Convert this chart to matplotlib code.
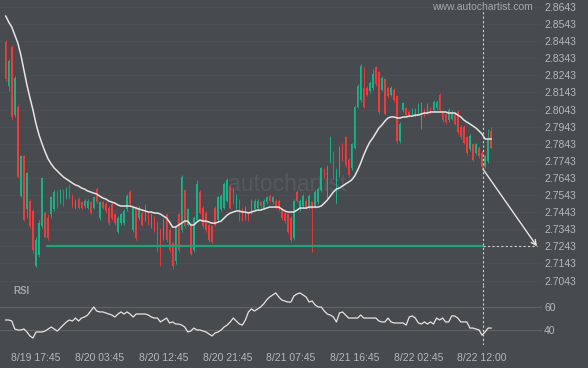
import matplotlib
matplotlib.use("Agg")
import matplotlib.pyplot as plt

plt.rcParams["font.family"] = ["Liberation Sans", "DejaVu Sans"]

# ----------------------------------------------------------------------
# Data (15-min candles)
# ----------------------------------------------------------------------
opens = [
    2.844, 2.818, 2.841, 2.801, 2.806, 2.754, 2.777, 2.746, 2.751, 2.745,
    2.713, 2.719, 2.736, 2.744, 2.741, 2.743, 2.746, 2.756, 2.750, 2.757,
    2.753, 2.760, 2.754, 2.747, 2.752, 2.750, 2.748, 2.747, 2.750, 2.747,
    2.758, 2.741, 2.750, 2.749, 2.747, 2.749, 2.743, 2.733, 2.738, 2.738,
    2.746, 2.756, 2.734, 2.747, 2.741, 2.744, 2.740, 2.744, 2.736, 2.741,
    2.738, 2.734, 2.730, 2.743, 2.734, 2.726, 2.716, 2.743, 2.734, 2.757,
    2.737, 2.737, 2.722, 2.740, 2.756, 2.747, 2.744, 2.737, 2.736, 2.747,
    2.740, 2.746, 2.747, 2.751, 2.759, 2.758, 2.747, 2.751, 2.746, 2.741,
    2.744, 2.744, 2.746, 2.747, 2.750, 2.747, 2.750, 2.754, 2.750, 2.751,
    2.751, 2.746, 2.744, 2.743, 2.741, 2.729, 2.756, 2.746, 2.748, 2.751,
    2.747, 2.750, 2.748, 2.750, 2.757, 2.769, 2.753, 2.774, 2.779, 2.750,
    2.766, 2.784, 2.788, 2.775, 2.770, 2.782, 2.806, 2.810, 2.817, 2.817,
    2.815, 2.817, 2.829, 2.826, 2.816, 2.822, 2.817, 2.813, 2.816, 2.812,
    2.786, 2.804, 2.805, 2.803, 2.802, 2.801, 2.803, 2.794, 2.804, 2.803,
    2.805, 2.804, 2.805, 2.813, 2.803, 2.802, 2.798, 2.799, 2.802, 2.803,
    2.794, 2.794, 2.788, 2.781, 2.784, 2.779, 2.782, 2.779, 2.771, 2.774,
    2.792,
]
highs = [
    2.845, 2.834, 2.842, 2.824, 2.807, 2.778, 2.778, 2.768, 2.752, 2.746,
    2.730, 2.740, 2.765, 2.745, 2.743, 2.754, 2.757, 2.757, 2.758, 2.758,
    2.759, 2.761, 2.755, 2.752, 2.753, 2.751, 2.752, 2.752, 2.751, 2.754,
    2.759, 2.751, 2.751, 2.750, 2.748, 2.750, 2.744, 2.742, 2.744, 2.746,
    2.755, 2.757, 2.748, 2.748, 2.748, 2.745, 2.749, 2.745, 2.744, 2.742,
    2.739, 2.735, 2.741, 2.744, 2.735, 2.727, 2.737, 2.744, 2.766, 2.758,
    2.747, 2.738, 2.742, 2.763, 2.757, 2.748, 2.745, 2.738, 2.737, 2.748,
    2.754, 2.755, 2.762, 2.764, 2.760, 2.759, 2.755, 2.752, 2.747, 2.748,
    2.745, 2.752, 2.752, 2.752, 2.751, 2.752, 2.754, 2.755, 2.754, 2.752,
    2.752, 2.747, 2.745, 2.744, 2.742, 2.752, 2.757, 2.752, 2.755, 2.752,
    2.755, 2.751, 2.757, 2.759, 2.771, 2.770, 2.772, 2.789, 2.780, 2.770,
    2.783, 2.785, 2.789, 2.776, 2.785, 2.807, 2.819, 2.831, 2.829, 2.818,
    2.821, 2.828, 2.830, 2.827, 2.824, 2.823, 2.818, 2.818, 2.817, 2.813,
    2.797, 2.809, 2.806, 2.804, 2.805, 2.805, 2.808, 2.809, 2.805, 2.808,
    2.806, 2.810, 2.810, 2.814, 2.804, 2.803, 2.805, 2.804, 2.803, 2.804,
    2.795, 2.795, 2.789, 2.790, 2.785, 2.785, 2.783, 2.780, 2.778, 2.793,
    2.794,
]
lows = [
    2.821, 2.815, 2.799, 2.800, 2.764, 2.753, 2.739, 2.741, 2.735, 2.720,
    2.712, 2.718, 2.735, 2.729, 2.728, 2.741, 2.745, 2.747, 2.749, 2.748,
    2.752, 2.752, 2.747, 2.746, 2.746, 2.746, 2.747, 2.746, 2.743, 2.746,
    2.749, 2.740, 2.746, 2.744, 2.737, 2.740, 2.737, 2.732, 2.737, 2.737,
    2.745, 2.748, 2.733, 2.728, 2.740, 2.736, 2.739, 2.737, 2.735, 2.733,
    2.721, 2.713, 2.728, 2.727, 2.721, 2.711, 2.714, 2.721, 2.733, 2.735,
    2.736, 2.719, 2.721, 2.739, 2.743, 2.735, 2.733, 2.727, 2.726, 2.736,
    2.739, 2.745, 2.746, 2.750, 2.746, 2.749, 2.746, 2.739, 2.739, 2.740,
    2.739, 2.743, 2.745, 2.746, 2.747, 2.746, 2.749, 2.750, 2.749, 2.746,
    2.745, 2.740, 2.738, 2.732, 2.727, 2.728, 2.750, 2.745, 2.747, 2.746,
    2.746, 2.721, 2.747, 2.749, 2.756, 2.764, 2.752, 2.773, 2.764, 2.749,
    2.765, 2.774, 2.771, 2.765, 2.769, 2.781, 2.805, 2.809, 2.805, 2.812,
    2.814, 2.816, 2.818, 2.802, 2.815, 2.801, 2.811, 2.812, 2.809, 2.785,
    2.785, 2.803, 2.800, 2.800, 2.801, 2.800, 2.802, 2.793, 2.800, 2.802,
    2.802, 2.803, 2.804, 2.803, 2.797, 2.796, 2.797, 2.798, 2.795, 2.790,
    2.787, 2.784, 2.778, 2.780, 2.774, 2.778, 2.776, 2.770, 2.770, 2.773,
    2.781,
]
closes = [
    2.822, 2.833, 2.800, 2.823, 2.765, 2.777, 2.740, 2.767, 2.736, 2.722,
    2.728, 2.738, 2.764, 2.730, 2.729, 2.753, 2.756, 2.748, 2.757, 2.749,
    2.758, 2.753, 2.748, 2.751, 2.747, 2.747, 2.751, 2.751, 2.744, 2.753,
    2.750, 2.750, 2.747, 2.745, 2.738, 2.741, 2.738, 2.741, 2.743, 2.745,
    2.754, 2.749, 2.747, 2.729, 2.747, 2.737, 2.748, 2.738, 2.743, 2.734,
    2.722, 2.719, 2.740, 2.728, 2.722, 2.713, 2.736, 2.722, 2.765, 2.736,
    2.746, 2.720, 2.741, 2.761, 2.744, 2.736, 2.734, 2.728, 2.727, 2.737,
    2.753, 2.754, 2.761, 2.763, 2.747, 2.750, 2.754, 2.740, 2.740, 2.747,
    2.740, 2.751, 2.751, 2.751, 2.748, 2.751, 2.753, 2.751, 2.753, 2.747,
    2.746, 2.741, 2.739, 2.733, 2.728, 2.751, 2.751, 2.751, 2.754, 2.747,
    2.754, 2.746, 2.756, 2.758, 2.770, 2.765, 2.771, 2.788, 2.765, 2.769,
    2.782, 2.775, 2.772, 2.766, 2.784, 2.806, 2.818, 2.830, 2.806, 2.813,
    2.820, 2.825, 2.819, 2.803, 2.823, 2.802, 2.812, 2.817, 2.810, 2.786,
    2.796, 2.808, 2.801, 2.801, 2.804, 2.804, 2.807, 2.808, 2.801, 2.807,
    2.803, 2.809, 2.809, 2.804, 2.798, 2.797, 2.804, 2.803, 2.796, 2.791,
    2.788, 2.785, 2.779, 2.789, 2.775, 2.784, 2.777, 2.771, 2.777, 2.787,
    2.782,
]
moving_avg = [
    2.8590, 2.8555, 2.8526, 2.8479, 2.8432, 2.8362, 2.8274, 2.8187, 2.8111, 2.8040,
    2.7959, 2.7894, 2.7842, 2.7795, 2.7754, 2.7725, 2.7701, 2.7684, 2.7666, 2.7649,
    2.7637, 2.7625, 2.7613, 2.7602, 2.7596, 2.7584, 2.7578, 2.7567, 2.7561, 2.7555,
    2.7549, 2.7537, 2.7526, 2.7520, 2.7508, 2.7502, 2.7496, 2.7485, 2.7479, 2.7479,
    2.7479, 2.7479, 2.7473, 2.7467, 2.7461, 2.7455, 2.7450, 2.7444, 2.7444, 2.7438,
    2.7438, 2.7432, 2.7420, 2.7409, 2.7385, 2.7356, 2.7356, 2.7368, 2.7379, 2.7391,
    2.7391, 2.7368, 2.7368, 2.7385, 2.7397, 2.7391, 2.7391, 2.7385, 2.7379, 2.7379,
    2.7385, 2.7391, 2.7409, 2.7426, 2.7438, 2.7444, 2.7450, 2.7450, 2.7444, 2.7444,
    2.7438, 2.7444, 2.7450, 2.7455, 2.7455, 2.7461, 2.7467, 2.7473, 2.7473, 2.7473,
    2.7473, 2.7461, 2.7450, 2.7444, 2.7444, 2.7444, 2.7455, 2.7467, 2.7467, 2.7467,
    2.7473, 2.7473, 2.7473, 2.7473, 2.7479, 2.7496, 2.7514, 2.7537, 2.7561, 2.7578,
    2.7584, 2.7596, 2.7608, 2.7619, 2.7631, 2.7654, 2.7689, 2.7730, 2.7777, 2.7818,
    2.7853, 2.7877, 2.7906, 2.7935, 2.7953, 2.7976, 2.7994, 2.8000, 2.8000, 2.7994,
    2.7994, 2.8000, 2.8000, 2.8005, 2.8005, 2.8011, 2.8011, 2.8017, 2.8023, 2.8023,
    2.8029, 2.8029, 2.8029, 2.8029, 2.8029, 2.8029, 2.8023, 2.8023, 2.8023, 2.8011,
    2.8000, 2.7982, 2.7970, 2.7959, 2.7947, 2.7935, 2.7918, 2.7900, 2.7871, 2.7871,
    2.7871,
]
rsi = [
    48.7, 48.7, 47.8, 40.9, 40.0, 40.0, 40.9, 38.3, 34.8, 33.0,
    38.3, 38.3, 38.3, 39.1, 40.9, 42.6, 40.9, 39.1, 41.7, 44.3,
    47.0, 48.7, 47.8, 50.4, 47.8, 50.4, 51.3, 53.0, 56.5, 60.0,
    56.5, 55.7, 55.7, 54.8, 53.9, 53.0, 51.3, 53.9, 55.7, 53.9,
    55.7, 53.9, 51.3, 53.9, 53.9, 53.9, 53.9, 53.0, 51.3, 50.4,
    50.4, 47.0, 48.7, 50.4, 46.1, 47.0, 45.2, 45.2, 44.3, 42.6,
    38.3, 39.1, 41.7, 40.0, 40.0, 39.1, 38.3, 36.5, 34.8, 37.4,
    38.3, 40.0, 42.6, 44.3, 47.0, 50.4, 47.8, 45.2, 44.3, 48.7,
    55.7, 58.3, 56.5, 58.3, 60.0, 62.6, 66.1, 68.7, 70.4, 72.2,
    68.7, 66.1, 65.2, 64.3, 64.3, 69.6, 71.3, 72.2, 70.4, 68.7,
    64.3, 65.2, 61.7, 60.0, 60.0, 56.5, 53.9, 53.0, 51.3, 47.0,
    54.8, 55.7, 53.0, 50.4, 50.4, 50.4, 50.4, 53.0, 50.4, 50.4,
    50.4, 50.4, 50.4, 47.8, 47.0, 47.0, 50.4, 47.0, 46.1, 46.1,
    46.1, 46.1, 44.3, 51.3, 52.2, 50.4, 46.1, 45.2, 47.0, 45.2,
    47.0, 45.2, 50.4, 48.7, 50.4, 47.0, 47.0, 52.2, 52.2, 50.4,
    47.0, 47.0, 47.0, 41.7, 41.7, 40.9, 40.0, 35.5, 38.3, 41.7,
    41.7,
]

time_ticks = [10, 31, 52, 73, 94, 115, 136, 157]
time_labels = ["8/19 17:45", "8/20 03:45", "8/20 12:45", "8/20 21:45",
               "8/21 07:45", "8/21 16:45", "8/22 02:45", "8/22 12:00"]
price_ticks = [2.7043, 2.7143, 2.7243, 2.7343, 2.7443, 2.7543, 2.7643, 2.7743, 2.7843,
               2.7943, 2.8043, 2.8143, 2.8243, 2.8343, 2.8443, 2.8543, 2.8643]

SUPPORT = 2.7243
SUPPORT_START = 13.3
NOW_IDX = 157.3
FORECAST_IDX = 175.1
FORECAST_FROM = 2.7695

# colours
BG = "#474a4f"
UP = "#17b386"
DOWN = "#f03a3b"
LINE = "#e4e4e4"
TXT = "#b4b7bb"
LEVEL = "#1fa27a"

# ----------------------------------------------------------------------
fig = plt.figure(figsize=(5.88, 3.68), dpi=100)
fig.patch.set_facecolor(BG)

ax = fig.add_axes([0, 0.2255, 0.9218, 0.7745])
ax_r = fig.add_axes([0, 0.0625, 0.9218, 0.163], sharex=ax)

for a in (ax, ax_r):
    a.set_facecolor(BG)
    for s in a.spines.values():
        s.set_visible(False)
    a.yaxis.tick_right()
    a.tick_params(axis="y", length=0, pad=1.5, labelsize=7.5, colors=TXT)
    a.tick_params(axis="x", length=0)

idx = list(range(len(opens)))
colors = [UP if c >= o else DOWN for o, c in zip(opens, closes)]
bottoms = [min(o, c) for o, c in zip(opens, closes)]
heights = [max(abs(c - o), 0.0004) for o, c in zip(opens, closes)]

# faint price grid
for p in price_ticks:
    ax.axhline(p, color="#4c4f54", lw=0.6, zorder=0)

ax.text(0.421, 0.352, "autochartist", transform=ax.transAxes,
        fontsize=16.5, color="#55585d", ha="left", va="center", zorder=0)

ax.vlines(idx, lows, highs, colors=colors, lw=0.6, zorder=2)
ax.bar(idx, heights, bottom=bottoms, width=0.5, color=colors, lw=0, zorder=2)
ax.plot(idx, moving_avg, color=LINE, lw=1.1, zorder=3)

# support level and forecast
ax.hlines(SUPPORT, SUPPORT_START, NOW_IDX, color=LEVEL, lw=1.6, zorder=3)
ax.hlines(SUPPORT, NOW_IDX, FORECAST_IDX, color="#cfcfcf", lw=0.8,
          linestyles=(0, (2, 2)), zorder=3)
ax.annotate("", xy=(FORECAST_IDX, SUPPORT), xytext=(NOW_IDX, FORECAST_FROM),
            arrowprops=dict(arrowstyle="->", color=LINE, lw=1.0,
                            mutation_scale=9, shrinkA=0, shrinkB=0), zorder=4)
ax.axvline(NOW_IDX, ymax=0.965, color="#cfcfcf", lw=0.8, ls=(0, (2, 2)), zorder=4)

ax.set_ylim(2.7017, 2.8684)
ax.set_yticks(price_ticks)
ax.set_yticklabels([f"{p:.4f}" for p in price_ticks])
ax.set_xlim(-1.88, 176.76)
ax.tick_params(axis="x", labelbottom=False)

# RSI panel
ax_r.axhline(60, color="#5e6166", lw=0.9)
ax_r.axhline(40, color="#5e6166", lw=0.9)
ax_r.plot(idx, rsi, color=LINE, lw=0.9)
ax_r.axvline(NOW_IDX, color="#cfcfcf", lw=0.8, ls=(0, (2, 2)))
ax_r.set_ylim(26.96, 79.1)
ax_r.set_yticks([40, 60])
ax_r.set_yticklabels(["40", "60"])
ax_r.text(0.024, 0.9, "RSI", transform=ax_r.transAxes, fontsize=7,
          fontweight="bold", color="#a0a3a8", ha="left", va="center")
ax_r.set_xticks(time_ticks)
ax_r.set_xticklabels(time_labels)
ax_r.tick_params(axis="x", labelsize=7.5, colors=TXT, pad=6)

fig.text(432 / 588, 1 - 7 / 368, "www.autochartist.com", fontsize=7.5,
         color="#a4a7ac", ha="left", va="center")

fig.savefig("out.png", dpi=100, facecolor=BG)
